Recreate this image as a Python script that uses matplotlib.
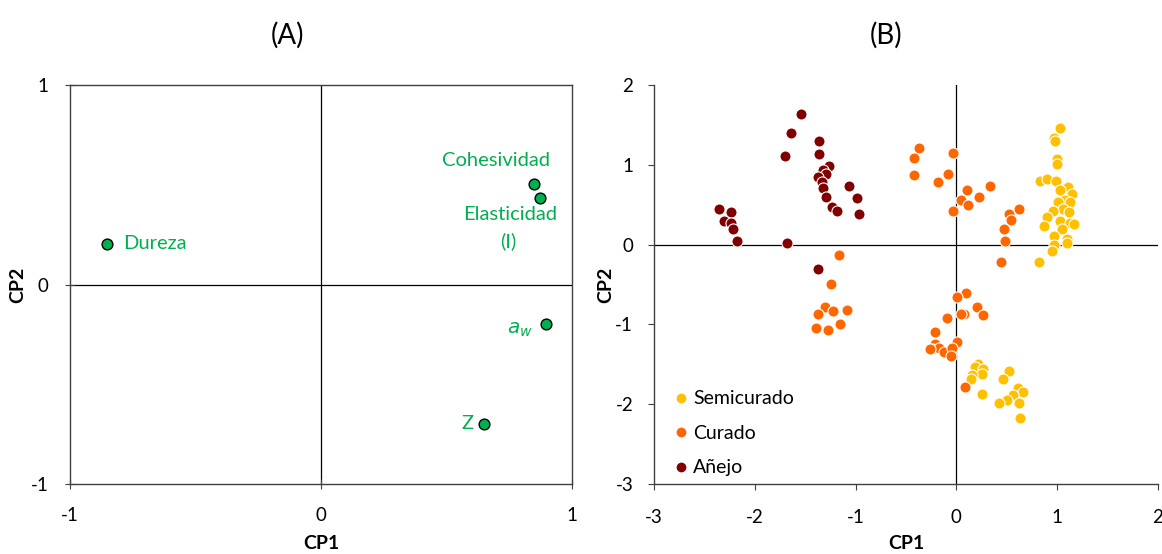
import matplotlib
matplotlib.use("Agg")
import matplotlib.pyplot as plt
from matplotlib.lines import Line2D

plt.rcParams['font.family'] = ['Lato', 'DejaVu Sans']
plt.rcParams['axes.unicode_minus'] = False

# ---- data panel (A): loadings ----
var_names = ["Dureza", "Cohesividad", "Elasticidad", "aw", "Z"]
var_cp1 = [-0.853, 0.849, 0.872, 0.896, 0.649]
var_cp2 = [0.205, 0.506, 0.436, -0.200, -0.697]

# ---- data panel (B): scores ----
semi_cp1 = [1.03, 0.97, 0.98, 1.00, 1.00, 0.83, 0.90, 0.99, 1.11, 1.03, 1.15, 1.08, 1.01, 1.13,
            1.06, 1.12, 0.96, 0.90, 1.03, 1.13, 1.17, 0.87, 1.05, 0.97, 1.10, 1.10, 0.97, 0.95, 0.82,
            0.21, 0.18, 0.26, 0.25, 0.15, 0.14, 0.52, 0.46, 0.25, 0.61, 0.66, 0.56, 0.50, 0.42, 0.62, 0.63]
semi_cp2 = [1.46, 1.33, 1.30, 1.07, 1.01, 0.80, 0.82, 0.80, 0.72, 0.68, 0.63, 0.56, 0.53, 0.53,
            0.45, 0.41, 0.42, 0.35, 0.30, 0.27, 0.26, 0.23, 0.20, 0.11, 0.07, 0.02, 0.00, -0.08, -0.22,
            -1.49, -1.53, -1.56, -1.62, -1.63, -1.68, -1.58, -1.68, -1.87, -1.80, -1.85, -1.88, -1.95, -1.98, -1.99, -2.17]

cur_cp1 = [-0.37, -0.42, -0.42, -0.03, -0.18, -0.08, 0.11, 0.05, 0.22, 0.12, 0.33, -0.03, 0.62, 0.52,
           0.54, 0.47, 0.48, 0.44,
           -1.16, -1.24, -1.30, -1.37, -1.22, -1.09, -1.15, -1.39, -1.27,
           0.10, 0.01, 0.20, 0.08, 0.05, 0.26, -0.09, -0.21, -0.21, 0.01, -0.24, -0.17, -0.12, -0.04,
           -0.05, 0.09, -0.26]
cur_cp2 = [1.21, 1.09, 0.87, 1.15, 0.79, 0.88, 0.68, 0.56, 0.60, 0.50, 0.74, 0.42, 0.45, 0.38,
           0.31, 0.19, 0.05, -0.22,
           -0.13, -0.49, -0.78, -0.87, -0.83, -0.82, -0.99, -1.05, -1.07,
           -0.61, -0.66, -0.78, -0.87, -0.87, -0.88, -0.92, -1.10, -1.25, -1.22, -1.31, -1.30, -1.34, -1.30,
           -1.40, -1.79, -1.31]

anejo_cp1 = [-1.54, -1.64, -1.36, -1.70, -1.36, -1.26, -1.32, -1.29, -1.37, -1.33, -1.32, -1.07,
             -1.29, -0.99, -1.23, -1.18, -0.97, -2.36, -2.24, -2.31, -2.24, -2.22, -2.18, -1.68, -1.37]
anejo_cp2 = [1.64, 1.40, 1.30, 1.11, 1.14, 0.99, 0.93, 0.88, 0.85, 0.79, 0.71, 0.73,
             0.60, 0.58, 0.47, 0.42, 0.38, 0.45, 0.41, 0.30, 0.27, 0.20, 0.04, 0.02, -0.31]

groups = ["Semicurado", "Curado", "Añejo"]
colors = ["#FFC000", "#FF6600", "#800000"]

green = "#00B050"

fig = plt.figure(figsize=(11.62, 5.54), dpi=100)
axA = fig.add_axes([70/1162, 70/554, 502/1162, 399/554])
axB = fig.add_axes([654/1162, 70/554, 504/1162, 399/554])

#PANEL A-----------------------------------------------------------------
axA.axhline(0, color="black", lw=0.9, zorder=1)
axA.axvline(0, color="black", lw=0.9, zorder=1)
axA.scatter(var_cp1, var_cp2, s=60, color=green, edgecolors="black", linewidths=1.0, zorder=3)
axA.set_xlim(-1, 1)
axA.set_ylim(-1, 1)
axA.set_xticks([-1, 0, 1])
axA.set_yticks([-1, 0, 1])
for sp in axA.spines.values():
    sp.set_color("#404040")
    sp.set_linewidth(1.0)
axA.tick_params(direction="inout", length=7, color="#404040", labelsize=13.5)
axA.tick_params(axis="x", pad=13)
axA.tick_params(axis="y", pad=12)

lab_kw = dict(textcoords="offset pixels", color=green, fontsize=14.5, va="center")
axA.annotate("Dureza", (var_cp1[0], var_cp2[0]), xytext=(16, 0), ha="left", **lab_kw)
axA.annotate("Cohesividad", (var_cp1[1], var_cp2[1]), xytext=(-38, 23), ha="center", **lab_kw)
axA.annotate("Elasticidad", (var_cp1[2], var_cp2[2]), xytext=(-30, -17), ha="center", **lab_kw)
axA.annotate("(I)", (var_cp1[2], var_cp2[2]), xytext=(-32, -44), ha="center", **lab_kw)
axA.annotate("$a_w$", (var_cp1[3], var_cp2[3]), xytext=(-13, -5), ha="right", **lab_kw)
axA.annotate("Z", (var_cp1[4], var_cp2[4]), xytext=(-10, 0), ha="right", **lab_kw)

axA.set_xlabel("CP1", fontsize=14, fontweight="bold")
axA.set_ylabel("CP2", fontsize=14, fontweight="bold")
axA.xaxis.set_label_coords(0.5, -(535 - 484) / 399)
axA.yaxis.set_label_coords(-(70 - 26) / 502, 0.5)

#PANEL B-----------------------------------------------------------------
axB.axhline(0, color="black", lw=0.9, zorder=1)
axB.axvline(0, color="black", lw=0.9, zorder=1)
data_b = [(semi_cp1, semi_cp2), (cur_cp1, cur_cp2), (anejo_cp1, anejo_cp2)]
for (xs, ys), c, g in zip(data_b, colors, groups):
    axB.scatter(xs, ys, s=64, color=c, edgecolors="white", linewidths=0.8, zorder=3, label=g)
axB.set_xlim(-3, 2)
axB.set_ylim(-3, 2)
axB.set_xticks(range(-3, 3))
axB.set_yticks(range(-3, 3))
axB.spines["top"].set_visible(False)
axB.spines["right"].set_visible(False)
for s in ["left", "bottom"]:
    axB.spines[s].set_color("#404040")
    axB.spines[s].set_linewidth(1.0)
axB.tick_params(direction="out", length=4, color="#404040", labelsize=13.5)
axB.tick_params(axis="x", pad=14)
axB.tick_params(axis="y", pad=11)

handles = [Line2D([], [], marker="o", ls="", color=c, markersize=6) for c in colors]
axB.legend(handles, groups, loc="lower left", frameon=False, fontsize=14,
           handletextpad=0.05, labelspacing=0.9, borderaxespad=0.5, handlelength=1.1,
           bbox_to_anchor=(-0.002, -0.025))

axB.set_xlabel("CP1", fontsize=14, fontweight="bold")
axB.set_ylabel("CP2", fontsize=14, fontweight="bold")
axB.xaxis.set_label_coords(0.5, -(535 - 484) / 399)
axB.yaxis.set_label_coords(-(654 - 614) / 504, 0.5)

fig.text(287/1162, 1 - 35/554, "(A)", ha="center", va="center", fontsize=20)
fig.text(886/1162, 1 - 35/554, "(B)", ha="center", va="center", fontsize=20)

plt.savefig("out.png", dpi=100)
plt.close()
